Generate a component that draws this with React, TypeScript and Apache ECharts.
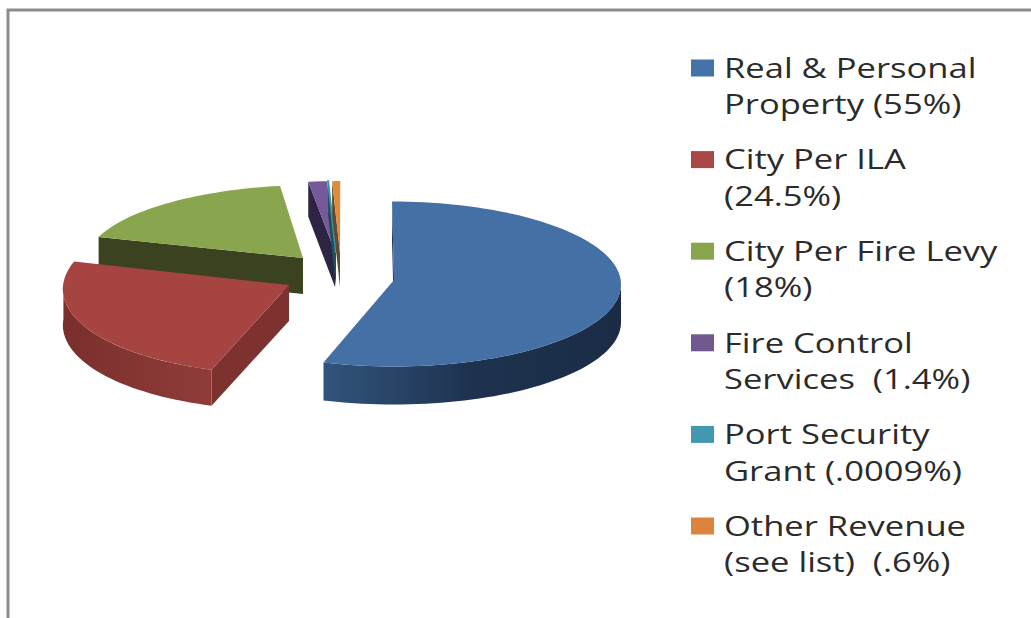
import React, { useEffect, useRef } from "react";
import * as echarts from "echarts";

const sliceNames = [
  "Real & Personal\nProperty (55%)",
  "City Per ILA\n(24.5%)",
  "City Per Fire Levy\n(18%)",
  "Fire Control\nServices  (1.4%)",
  "Port Security\nGrant (.0009%)",
  "Other Revenue\n(see list)  (.6%)",
];
const sliceValues = [55, 24.5, 18, 1.4, 0.0009, 0.6];
const topColors = ["#4470A6", "#A64442", "#89A54E", "#75599A", "#3F95AC", "#E08A3E"];
const legendColors = ["#4572A7", "#AA4643", "#89A54E", "#71588F", "#4198AF", "#DB843D"];

// Projection of each exploded slice of the tilted pie
const projection = [
  { ax: 394, ay: 280, cx: 393, cy: 284, rx: 228, ry: 82.5, s: -1, depth: 38, z: 1 },
  { ax: 289, ay: 285, cx: 289, cy: 286, rx: 226, ry: 88, s: 8, depth: 36, z: 3 },
  { ax: 303, ay: 258, cx: 303, cy: 257, rx: 216, ry: 72, s: 11, depth: 36, z: 2 },
  { ax: 335, ay: 252, cx: 335, cy: 252, rx: 215, ry: 71, s: 7, depth: 35, z: 1 },
  { ax: 336, ay: 253, cx: 336, cy: 253, rx: 215, ry: 72, s: 7, depth: 34, z: 1 },
  { ax: 340, ay: 253, cx: 340, cy: 253, rx: 215, ry: 72, s: 7, depth: 34, z: 1 },
];
const cutFaceColors = ["#1C2E48", "#7E3230", "#3A421F", "#2D2444", "#1F4E5C", "#5E4A30"];
const wallStops = [
  [[0, "#31547C"], [0.5, "#1E324F"], [1, "#1A2C45"]],
  [[0, "#8F3C39"], [1, "#7A2F2D"]],
  null,
  null,
  null,
  null,
];

const PERCENT_TO_DEG = 3.6;

function arcPoint(p: any, deg: number, drop = 0) {
  const t = (deg * Math.PI) / 180;
  return [p.cx + p.rx * Math.sin(t) + p.s * Math.cos(t), p.cy - p.ry * Math.cos(t) + drop];
}

function arcPoints(p: any, from: number, to: number, drop = 0) {
  const n = Math.max(2, Math.ceil(Math.abs(to - from) / 2));
  const pts: number[][] = [];
  for (let i = 0; i <= n; i++) pts.push(arcPoint(p, from + ((to - from) * i) / n, drop));
  return pts;
}

function buildSeries() {
  let acc = 0;
  return sliceNames.map((name, i) => {
    const start = acc;
    const end = acc + sliceValues[i] * PERCENT_TO_DEG;
    acc = end;
    const p = projection[i];
    return {
      type: "custom",
      name,
      coordinateSystem: "none",
      z: p.z,
      silent: true,
      data: [[sliceValues[i]]],
      renderItem: () => {
        const children: any[] = [];
        const s0 = arcPoint(p, start);
        children.push({
          type: "polygon",
          shape: {
            points: [s0, [p.ax, p.ay], [p.ax, p.ay + p.depth], [s0[0], s0[1] + p.depth]],
          },
          style: { fill: cutFaceColors[i] },
        });
        const wFrom = Math.max(start, 90);
        const wTo = Math.min(end, 272);
        if (wTo > wFrom) {
          const upper = arcPoints(p, wFrom, wTo);
          const lower = arcPoints(p, wFrom, wTo, p.depth).reverse();
          const stops = wallStops[i] || [[0, cutFaceColors[i]], [1, cutFaceColors[i]]];
          children.push({
            type: "polygon",
            shape: { points: upper.concat(lower) },
            style: {
              fill: new echarts.graphic.LinearGradient(
                wFrom > 180 ? 1 : 0, 0, wFrom > 180 ? 0 : 1, 0,
                stops.map((st: any) => ({ offset: st[0], color: st[1] }))
              ),
            },
          });
        }
        children.push({
          type: "polygon",
          shape: { points: [[p.ax, p.ay]].concat(arcPoints(p, start, end)) },
          style: {
            fill: topColors[i],
            stroke: end - start < 1 ? topColors[i] : "none",
            lineWidth: end - start < 1 ? 2 : 0,
          },
        });
        return { type: "group", children };
      },
    };
  });
}

function buildLegend() {
  const out: any[] = [];
  sliceNames.forEach((name, i) => {
    const y = 68 + i * 91.6;
    out.push({
      type: "rect",
      shape: { x: 691, y: y - 8.5, width: 23, height: 17 },
      style: { fill: legendColors[i] },
    });
    out.push({
      type: "text",
      x: 724,
      y: y - 19,
      scaleX: 1.28,
      style: {
        text: name,
        fill: "#2b2b2b",
        font: '27px "Open Sans"',
        lineHeight: 36.5,
        textVerticalAlign: "top",
      },
    });
  });
  return out;
}

export default function App() {
  const ref = useRef<HTMLDivElement>(null);
  useEffect(() => {
    document.body.style.margin = "0";
    const chart = echarts.init(ref.current!, null, { renderer: "svg" });
    chart.setOption({
      animation: false,
      backgroundColor: "#ffffff",
      series: buildSeries(),
      graphic: [
        {
          type: "rect",
          shape: { x: 8, y: 10, width: 1100, height: 700 },
          style: { fill: "none", stroke: "#8c8c8c", lineWidth: 3 },
        },
        ...buildLegend(),
      ],
    });
    return () => chart.dispose();
  }, []);
  return <div ref={ref} style={{ position: "absolute", left: 0, top: 0, width: 1031, height: 618 }} />;
}
